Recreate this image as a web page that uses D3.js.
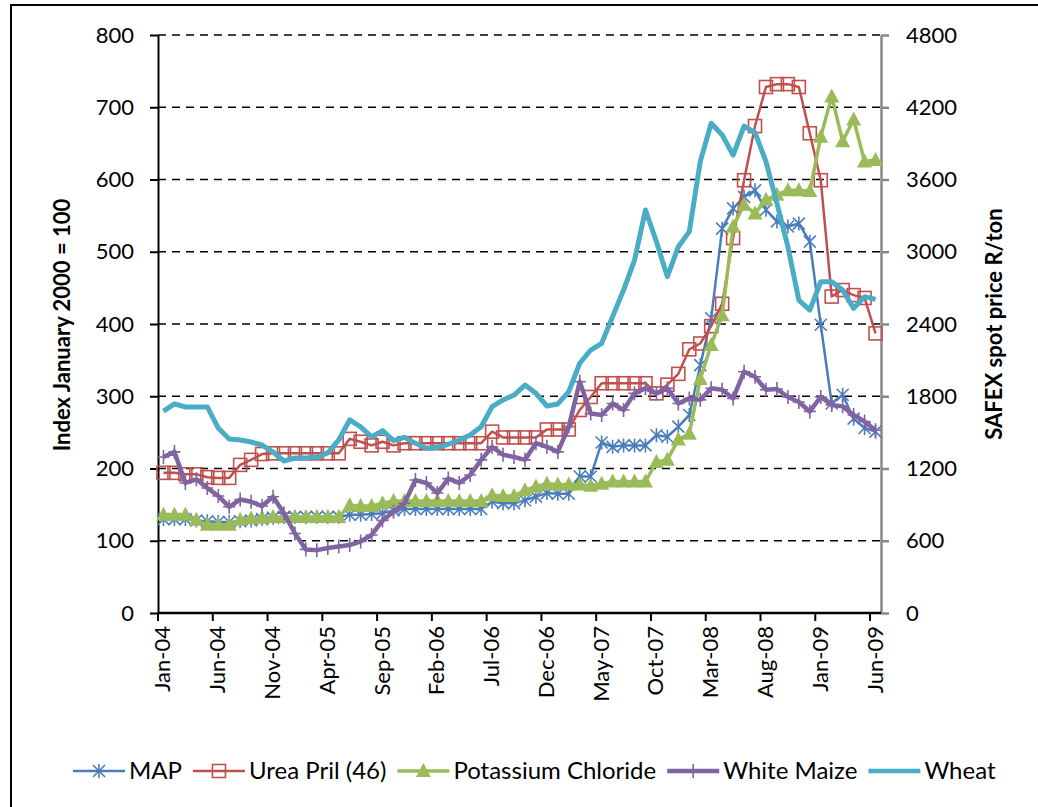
<!DOCTYPE html>
<html>
<head>
<meta charset="utf-8">
<script src="https://cdn.jsdelivr.net/npm/d3@7"></script>
<style>
  body { margin: 0; background: #fff; }
  text { font-family: Lato, "Open Sans", sans-serif; fill: #000; }
</style>
</head>
<body>
<svg id="chart" width="1038" height="807"></svg>
<script>
const months = [
  'Jan-04','Feb-04','Mar-04','Apr-04','May-04','Jun-04','Jul-04','Aug-04','Sep-04','Oct-04','Nov-04','Dec-04',
  'Jan-05','Feb-05','Mar-05','Apr-05','May-05','Jun-05','Jul-05','Aug-05','Sep-05','Oct-05','Nov-05','Dec-05',
  'Jan-06','Feb-06','Mar-06','Apr-06','May-06','Jun-06','Jul-06','Aug-06','Sep-06','Oct-06','Nov-06','Dec-06',
  'Jan-07','Feb-07','Mar-07','Apr-07','May-07','Jun-07','Jul-07','Aug-07','Sep-07','Oct-07','Nov-07','Dec-07',
  'Jan-08','Feb-08','Mar-08','Apr-08','May-08','Jun-08','Jul-08','Aug-08','Sep-08','Oct-08','Nov-08','Dec-08',
  'Jan-09','Feb-09','Mar-09','Apr-09','May-09','Jun-09'
];
const tickLabels = ['Jan-04','Jun-04','Nov-04','Apr-05','Sep-05','Feb-06','Jul-06','Dec-06',
  'May-07','Oct-07','Mar-08','Aug-08','Jan-09','Jun-09'];
const leftTicks = [0, 100, 200, 300, 400, 500, 600, 700, 800];
const rightTicks = [0, 600, 1200, 1800, 2400, 3000, 3600, 4200, 4800];

const map = [130,130,130,128,127,126,126,127,128,130,132,133,133,133,133,133,133,136,136,137,138,142,
  144,144,144,144,144,144,144,144,154,152,152,156,161,166,165,165,189,189,236,230,232,232,232,246,244,
  258,274,343,408,532,560,576,585,558,542,535,539,514,399,290,302,269,256,251];
const urea = [194,194,192,192,188,187,187,205,212,220,221,221,221,221,221,221,221,241,237,232,237,232,
  235,235,235,235,235,235,235,235,251,243,243,243,243,254,254,254,281,299,318,318,318,318,318,304,316,
  331,365,373,397,428,519,599,674,728,732,732,728,664,599,438,447,440,436,387];
const potash = [136,136,136,129,122,122,122,129,131,132,133,133,133,133,133,133,133,149,148,148,152,155,
  155,155,155,155,155,155,155,155,163,162,162,170,175,179,178,178,178,176,179,182,182,182,182,209,212,
  240,248,324,371,412,535,565,553,572,579,585,585,584,659,715,653,683,625,627];
const maize = [216,223,180,185,173,162,147,157,154,148,161,138,110,88,87,90,92,94,99,108,128,140,
  152,184,180,166,186,180,191,212,230,219,216,212,235,230,223,258,320,276,274,290,281,304,311,304,311,
  290,297,295,311,309,297,334,327,309,310,299,292,279,299,288,286,274,265,253];
const wheat = [1677,1736,1711,1711,1711,1536,1445,1437,1420,1395,1337,1262,1287,1287,1295,1329,1437,
  1603,1545,1462,1515,1431,1459,1409,1368,1376,1401,1437,1478,1547,1713,1769,1810,1893,1824,1719,1736,
  1838,2074,2184,2240,2461,2682,2931,3347,3083,2793,3042,3167,3748,4067,3969,3803,4044,3989,3748,3402,
  3042,2599,2516,2751,2751,2682,2530,2627,2605];

const svg = d3.select('#chart');
const fs = 22;

// outer frame
svg.append('rect')
  .attr('x', 11).attr('y', 5).attr('width', 1040).attr('height', 820)
  .attr('fill', 'none').attr('stroke', '#000').attr('stroke-width', 2);

const x = d3.scaleBand().domain(months).range([158, 881]);
const y = d3.scaleLinear().domain([0, 800]).range([613, 35]);
const y2 = d3.scaleLinear().domain([0, 4800]).range([613, 35]);
const cx = m => x(m) + x.bandwidth() / 2;

// gridlines
svg.append('g')
  .selectAll('line')
  .data(leftTicks.filter(d => d > 0))
  .join('line')
    .attr('x1', 158).attr('x2', 881)
    .attr('y1', d => y(d)).attr('y2', d => y(d))
    .attr('stroke', '#000').attr('stroke-width', 1.5)
    .attr('stroke-dasharray', '8,6');

// left axis
const yAxis = g => g
  .attr('transform', 'translate(158,0)')
  .call(d3.axisLeft(y).tickValues(leftTicks).tickSize(8).tickPadding(16).tickSizeOuter(0))
  .call(g => g.selectAll('path, line').attr('stroke', '#000').attr('stroke-width', 2))
  .call(g => g.selectAll('text').attr('font-size', fs).attr('font-family', 'Lato'));
svg.append('g').call(yAxis);

// right axis
const y2Axis = g => g
  .attr('transform', 'translate(881,0)')
  .call(d3.axisRight(y2).tickValues(rightTicks).tickFormat(d3.format('d'))
    .tickSize(8).tickPadding(17).tickSizeOuter(0))
  .call(g => g.selectAll('path, line').attr('stroke', '#888').attr('stroke-width', 2.5))
  .call(g => g.selectAll('text').attr('font-size', fs).attr('font-family', 'Lato'));
svg.append('g').call(y2Axis);

// bottom axis
const xg = svg.append('g');
xg.append('line')
  .attr('x1', 158).attr('x2', 881).attr('y1', 613).attr('y2', 613)
  .attr('stroke', '#000').attr('stroke-width', 2.5);
xg.selectAll('line.tick')
  .data(tickLabels)
  .join('line')
    .attr('class', 'tick')
    .attr('x1', d => x(d)).attr('x2', d => x(d))
    .attr('y1', 613).attr('y2', 621)
    .attr('stroke', '#000').attr('stroke-width', 2);
xg.selectAll('text')
  .data(tickLabels)
  .join('text')
    .attr('transform', d => `translate(${cx(d) + 7},626) rotate(-90)`)
    .attr('text-anchor', 'end')
    .attr('font-size', fs)
    .text(d => d);

// axis titles
svg.append('text')
  .attr('transform', 'translate(70,325) rotate(-90)')
  .attr('text-anchor', 'middle')
  .attr('font-size', fs).attr('font-weight', 'bold')
  .text('Index January 2000 = 100');
svg.append('text')
  .attr('transform', 'translate(1002,324) rotate(-90)')
  .attr('text-anchor', 'middle')
  .attr('font-size', fs).attr('font-weight', 'bold')
  .text('SAFEX spot price R/ton');

// markers
const markers = {
  star: (g, c) => g.append('path')
    .attr('d', 'M-6,-6L6,6M-6,6L6,-6M0,-7L0,7')
    .attr('stroke', c).attr('stroke-width', 1.6).attr('fill', 'none'),
  square: (g, c) => g.append('rect')
    .attr('x', -6.5).attr('y', -6.5).attr('width', 13).attr('height', 13)
    .attr('stroke', c).attr('stroke-width', 1.6).attr('fill', 'none'),
  triangle: (g, c) => g.append('path')
    .attr('d', 'M0,-8L7.5,6L-7.5,6Z').attr('fill', c),
  plus: (g, c) => g.append('path')
    .attr('d', 'M-6,0L6,0M0,-7L0,7')
    .attr('stroke', c).attr('stroke-width', 1.6).attr('fill', 'none'),
  none: () => {}
};

const series = [
  { name: 'MAP', values: map, scale: y, color: '#4A7EBB', width: 2.5, marker: 'star' },
  { name: 'Urea Pril (46)', values: urea, scale: y, color: '#C0504D', width: 2.5, marker: 'square' },
  { name: 'Potassium Chloride', values: potash, scale: y, color: '#9BBB59', width: 3.5, marker: 'triangle' },
  { name: 'White Maize', values: maize, scale: y, color: '#8064A2', width: 4.5, marker: 'plus' },
  { name: 'Wheat', values: wheat, scale: y2, color: '#4BACC6', width: 5, marker: 'none' }
];

series.forEach(s => {
  const line = d3.line()
    .x((d, i) => cx(months[i]))
    .y(d => s.scale(d));
  const g = svg.append('g');
  g.append('path')
    .datum(s.values)
    .attr('d', line)
    .attr('fill', 'none')
    .attr('stroke', s.color)
    .attr('stroke-width', s.width)
    .attr('stroke-linejoin', 'round');
  s.values.forEach((v, i) => {
    const mg = g.append('g').attr('transform', `translate(${cx(months[i])},${s.scale(v)})`);
    markers[s.marker](mg, s.color);
  });
});

// legend
const legend = svg.append('g').attr('transform', 'translate(0,771)');
let lx = 73;
series.forEach(s => {
  const item = legend.append('g');
  item.append('line')
    .attr('x1', lx).attr('x2', lx + 52).attr('y1', 0).attr('y2', 0)
    .attr('stroke', s.color).attr('stroke-width', Math.min(s.width, 4.5));
  const mg = item.append('g').attr('transform', `translate(${lx + 26},0)`);
  markers[s.marker](mg, s.color);
  const t = item.append('text')
    .attr('x', lx + 56).attr('y', 0).attr('dy', '0.35em')
    .attr('font-size', 24)
    .text(s.name);
  lx += 56 + t.node().getComputedTextLength() + 11;
});
</script>
</body>
</html>
